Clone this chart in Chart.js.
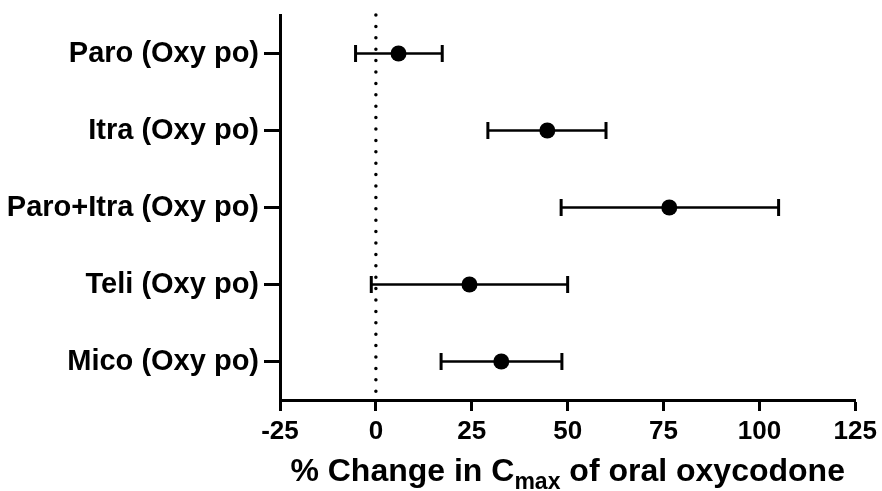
<!DOCTYPE html>
<html>
<head>
<meta charset="utf-8">
<script src="https://cdn.jsdelivr.net/npm/chart.js@4/dist/chart.umd.min.js"></script>
<style>
  body { margin: 0; background: #fff; }
  #wrap { width: 882px; height: 491px; }
</style>
</head>
<body>
<div id="wrap"><canvas id="mycanvas" width="882" height="491"></canvas></div>
<script>
// study arms (top to bottom)
var categories = ['Paro (Oxy po)', 'Itra (Oxy po)', 'Paro+Itra (Oxy po)', 'Teli (Oxy po)', 'Mico (Oxy po)'];
// % change in Cmax, point estimate and 90% CI
var meanChange = [5.9, 44.7, 76.5, 24.4, 32.7];
var lowerCI = [-5.3, 29.2, 48.3, -1.2, 17.0];
var upperCI = [17.3, 60.0, 105.0, 50.0, 48.5];
var xTicks = [-25, 0, 25, 50, 75, 100, 125];

var FONT = '"Liberation Sans", Arial, Helvetica, sans-serif';

var points = [];
for (var i = 0; i < categories.length; i++) {
	points.push({x: meanChange[i], y: i + 1});
}

var datasets = [
	{
		type: 'scatter',
		label: 'mean',
		data: points,
		pointRadius: 8,
		pointBackgroundColor: '#000',
		pointBorderColor: '#000',
		pointBorderWidth: 0
	}
];

// one small line per row for the CI whisker, caps are vertical line points
for (var j = 0; j < categories.length; j++) {
	datasets.push({
		type: 'line',
		label: 'ci' + j,
		data: [{x: lowerCI[j], y: j + 1}, {x: upperCI[j], y: j + 1}],
		borderColor: '#000',
		borderWidth: 2.5,
		pointStyle: 'line',
		rotation: 90,
		pointRadius: 8.5,
		pointBorderWidth: 3,
		pointBorderColor: '#000',
		fill: false
	});
}

// dotted reference line at 0
datasets.push({
	type: 'line',
	label: 'zero',
	data: [{x: 0, y: 0.5}, {x: 0, y: 5.5}],
	borderColor: '#000',
	borderWidth: 3.5,
	borderDash: [0, 11.4],
	borderCapStyle: 'round',
	pointRadius: 0,
	fill: false,
	clip: false
});

var xTitle = {
	id: 'xTitle',
	afterDraw: function(chart) {
		var ctx = chart.ctx;
		var area = chart.chartArea;
		var size = 32, subSize = 23;
		var parts = [
			{t: '% Change in C', f: size, dy: 0},
			{t: 'max', f: subSize, dy: 8},
			{t: ' of oral oxycodone', f: size, dy: 0}
		];
		var total = 0;
		ctx.save();
		parts.forEach(function(p) {
			ctx.font = 'bold ' + p.f + 'px ' + FONT;
			p.w = ctx.measureText(p.t).width;
			total += p.w;
		});
		var x = (area.left + area.right) / 2 - total / 2;
		var base = 481;
		ctx.fillStyle = '#000';
		ctx.textBaseline = 'alphabetic';
		ctx.textAlign = 'left';
		parts.forEach(function(p) {
			ctx.font = 'bold ' + p.f + 'px ' + FONT;
			ctx.fillText(p.t, x, base + p.dy);
			x += p.w;
		});
		ctx.restore();
	}
};

var chart = new Chart(document.getElementById('mycanvas'), {
	data: {datasets: datasets},
	plugins: [xTitle],
	options: {
		responsive: false,
		animation: false,
		layout: {padding: {top: 15, right: 26, left: 0, bottom: 0}},
		plugins: {
			legend: {display: false},
			tooltip: {enabled: false}
		},
		scales: {
			x: {
				type: 'linear',
				min: -25,
				max: 125,
				afterBuildTicks: function(scale) {
					scale.ticks = xTicks.map(function(v) { return {value: v}; });
				},
				afterFit: function(scale) { scale.height = 91; },
				border: {display: true, color: '#000', width: 3},
				grid: {
					drawOnChartArea: false,
					drawTicks: true,
					tickLength: 11,
					tickWidth: 3,
					tickColor: '#000'
				},
				ticks: {
					color: '#000',
					padding: 5,
					maxRotation: 0,
					font: {family: FONT, size: 26, weight: 'bold'}
				}
			},
			y: {
				type: 'linear',
				min: 0.5,
				max: 5.5,
				reverse: true,
				afterBuildTicks: function(scale) {
					scale.ticks = categories.map(function(c, k) { return {value: k + 1}; });
				},
				afterFit: function(scale) {
					scale.width = 280;
					// rows sit inset from the ends, no label overhang needed
					scale.paddingTop = 0;
					scale.paddingBottom = 0;
				},
				border: {display: true, color: '#000', width: 3},
				grid: {
					drawOnChartArea: false,
					drawTicks: true,
					tickLength: 16,
					tickWidth: 3,
					tickColor: '#000'
				},
				ticks: {
					color: '#000',
					padding: 5,
					font: {family: FONT, size: 29, weight: 'bold'},
					callback: function(value) { return categories[value - 1]; }
				}
			}
		}
	}
});
</script>
</body>
</html>
